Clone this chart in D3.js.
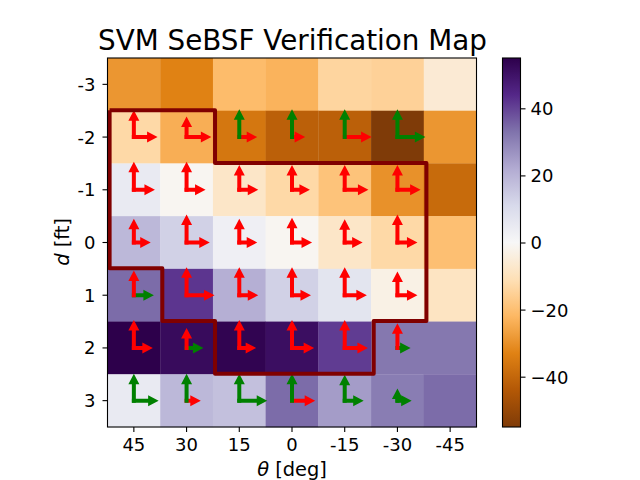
<!DOCTYPE html>
<html>
<head>
<meta charset="utf-8">
<script src="https://cdn.jsdelivr.net/npm/d3@7"></script>
<style>
html, body { margin: 0; padding: 0; background: white; }
text { font-family: "DejaVu Sans", sans-serif; fill: black; }
</style>
</head>
<body>
<div id="chart"></div>
<script>
var thetaLabels = ["45", "30", "15", "0", "-15", "-30", "-45"];
var depthLabels = ["-3", "-2", "-1", "0", "1", "2", "3"];

// heat values, one row per depth
var heat = [
    [-29, -33, -21, -23, -14, -15, -6],
    [-13, -24, -36, -42, -42, -55, -29],
    [5, -1, -8, -13, -19, -30, -39],
    [19, 13, 3, -1, -8, -13, -20],
    [34, 42, 21, 13, 7, -3, -9],
    [55, 52, 54, 51, 41, 32, 32],
    [5, 19, 17, 34, 25, 31, 34]
];

var cbarTicks = [-40, -20, 0, 20, 40];
var cbarDomain = [-55, 55];
var puorStops = ["#7f3b08", "#b35806", "#e08214", "#fdb863", "#fee0b6", "#f7f7f7",
                 "#d8daeb", "#b2abd2", "#8073ac", "#542788", "#2d004b"];

// arrows only exist for these rows and columns, lengths are percent of a cell
var arrowDepths = ["-2", "-1", "0", "1", "2", "3"];
var arrowThetas = ["45", "30", "15", "0", "-15", "-30"];
var upLen = [
    [51, 39, 53, 53, 53, 53],
    [53, 53, 47, 47, 47, 47],
    [45, 53, 45, 47, 44, 53],
    [47, 53, 53, 53, 53, 45],
    [53, 38, 53, 53, 53, 47],
    [51, 51, 51, 51, 49, 23]
];
var rightLen = [
    [45, 47, 34, 25, 51, 53],
    [40, 36, 36, 34, 45, 44],
    [32, 44, 34, 38, 34, 38],
    [38, 53, 36, 36, 42, 38],
    [36, 32, 32, 42, 44, 25],
    [47, 27, 53, 44, 36, 27]
];
// 1 = green, 0 = red
var upGood = [
    [0, 0, 1, 1, 1, 1],
    [0, 0, 0, 0, 0, 0],
    [0, 0, 0, 0, 0, 0],
    [0, 0, 0, 0, 0, 0],
    [0, 0, 0, 0, 0, 0],
    [1, 1, 1, 1, 1, 1]
];
var rightGood = [
    [0, 0, 0, 0, 0, 1],
    [0, 0, 0, 0, 0, 0],
    [0, 0, 0, 0, 0, 0],
    [1, 0, 0, 0, 0, 0],
    [0, 1, 0, 0, 0, 1],
    [1, 0, 1, 0, 1, 1]
];

// outline corners, in cells from the top left of the map
var outlineCol = [0.04, 2.04, 2.04, 6.05, 6.05, 5.05, 5.05, 2.04, 2.04, 1.04, 1.04, 0.04, 0.04];
var outlineRow = [0.99, 0.99, 1.99, 1.99, 4.99, 4.99, 5.99, 5.99, 4.99, 4.99, 3.99, 3.99, 0.99];

function init() {

    var w = 640;
    var h = 480;
    var left = 107.5, right = 476.5, top = 58, bottom = 427;

    var svg = d3.select("#chart")
                .append("svg")
                .attr("width", w)
                .attr("height", h)
                .style("display", "block");

    var xScale = d3.scaleBand().domain(thetaLabels).range([left, right]);
    var yScale = d3.scaleBand().domain(depthLabels).range([top, bottom]);
    var cell = xScale.bandwidth();

    var color = d3.scaleLinear()
                  .domain(d3.range(puorStops.length).map(function(i) {
                      return cbarDomain[0] + i * (cbarDomain[1] - cbarDomain[0]) / (puorStops.length - 1);
                  }))
                  .range(puorStops)
                  .interpolate(d3.interpolateRgb);

    var lenScale = d3.scaleLinear().domain([0, 100]).range([0, cell]);
    var outX = d3.scaleLinear().domain([0, 7]).range([left, right]);
    var outY = d3.scaleLinear().domain([0, 7]).range([top, bottom]);

    // heat cells
    depthLabels.forEach(function(dl, r) {
        svg.append("g").selectAll("rect")
           .data(heat[r])
           .enter()
           .append("rect")
           .attr("x", function(d, i) { return xScale(thetaLabels[i]); })
           .attr("y", yScale(dl))
           .attr("width", cell + 0.3)
           .attr("height", cell + 0.3)
           .attr("fill", function(d) { return color(d); });
    });

    // outline
    var line = d3.line()
                 .x(function(d) { return outX(outlineCol[d]); })
                 .y(function(d) { return outY(outlineRow[d]); });

    // arrows: filled polygon from tail to tip, tail pushed back so the corner is square
    function arrowPath(x0, y0, ux, uy, len) {
        var sw = 2, hw = 5.5, hl = Math.min(10.5, len);
        var px = -uy, py = ux;
        var bx = x0 + ux * (len - hl), by = y0 + uy * (len - hl);
        var tx = x0 - ux * sw, ty = y0 - uy * sw;
        var pts = [
            [tx + px * sw, ty + py * sw],
            [bx + px * sw, by + py * sw],
            [bx + px * hw, by + py * hw],
            [x0 + ux * len, y0 + uy * len],
            [bx - px * hw, by - py * hw],
            [bx - px * sw, by - py * sw],
            [tx - px * sw, ty - py * sw]
        ];
        return d3.line()(pts) + "Z";
    }

    arrowDepths.forEach(function(dl, r) {
        arrowThetas.forEach(function(tl, c) {
            var cx = xScale(tl) + cell / 2;
            var cy = yScale(dl) + cell / 2;
            svg.append("path")
               .attr("d", arrowPath(cx, cy, 1, 0, lenScale(rightLen[r][c])))
               .attr("fill", rightGood[r][c] ? "green" : "red");
            svg.append("path")
               .attr("d", arrowPath(cx, cy, 0, -1, lenScale(upLen[r][c])))
               .attr("fill", upGood[r][c] ? "green" : "red");
        });
    });

    svg.append("path")
       .attr("d", line(d3.range(outlineCol.length)))
       .attr("fill", "none")
       .attr("stroke", "#800000")
       .attr("stroke-width", 4)
       .attr("stroke-linejoin", "round");

    // frame and axes
    svg.append("rect")
       .attr("x", left).attr("y", top)
       .attr("width", right - left).attr("height", bottom - top)
       .attr("fill", "none").attr("stroke", "black").attr("stroke-width", 1.1);

    var xAxis = svg.append("g")
       .attr("transform", "translate(0," + bottom + ")")
       .call(d3.axisBottom(xScale).tickSize(5).tickPadding(6));
    var yAxis = svg.append("g")
       .attr("transform", "translate(" + left + ",0)")
       .call(d3.axisLeft(yScale).tickSize(5).tickPadding(7));

    // colorbar
    var cbLeft = 502.5, cbRight = 520.5;
    var cbScale = d3.scaleLinear().domain(cbarDomain).range([bottom, top]);

    var grad = svg.append("defs").append("linearGradient")
                  .attr("id", "puor")
                  .attr("x1", 0).attr("y1", 1).attr("x2", 0).attr("y2", 0);
    grad.selectAll("stop")
        .data(puorStops)
        .enter()
        .append("stop")
        .attr("offset", function(d, i) { return i / (puorStops.length - 1); })
        .attr("stop-color", function(d) { return d; });

    svg.append("rect")
       .attr("x", cbLeft).attr("y", top)
       .attr("width", cbRight - cbLeft).attr("height", bottom - top)
       .attr("fill", "url(#puor)")
       .attr("stroke", "black").attr("stroke-width", 1.1);

    var cbAxis = svg.append("g")
       .attr("transform", "translate(" + cbRight + ",0)")
       .call(d3.axisRight(cbScale).tickValues(cbarTicks).tickSize(5).tickPadding(5));

    [xAxis, yAxis, cbAxis].forEach(function(a) {
        a.select(".domain").remove();
        a.selectAll("line").attr("stroke", "black").attr("stroke-width", 1.1);
        a.selectAll("text").style("font-size", "18px").style("font-family", "DejaVu Sans");
    });
    yAxis.selectAll("text").attr("dy", ".36em");
    cbAxis.selectAll("text").attr("dy", ".36em");

    // titles
    svg.append("text")
       .attr("x", 292.5).attr("y", 50)
       .attr("text-anchor", "middle")
       .style("font-size", "27.8px")
       .text("SVM SeBSF Verification Map");

    var xl = svg.append("text")
       .attr("x", 292).attr("y", 476)
       .attr("text-anchor", "middle")
       .style("font-size", "19.4px");
    xl.append("tspan").style("font-style", "italic").text("θ");
    xl.append("tspan").text(" [deg]");

    var yl = svg.append("text")
       .attr("transform", "translate(69,242) rotate(-90)")
       .attr("text-anchor", "middle")
       .style("font-size", "19.4px");
    yl.append("tspan").style("font-style", "italic").text("d");
    yl.append("tspan").text(" [ft]");
}

window.onload = init;
</script>
</body>
</html>
